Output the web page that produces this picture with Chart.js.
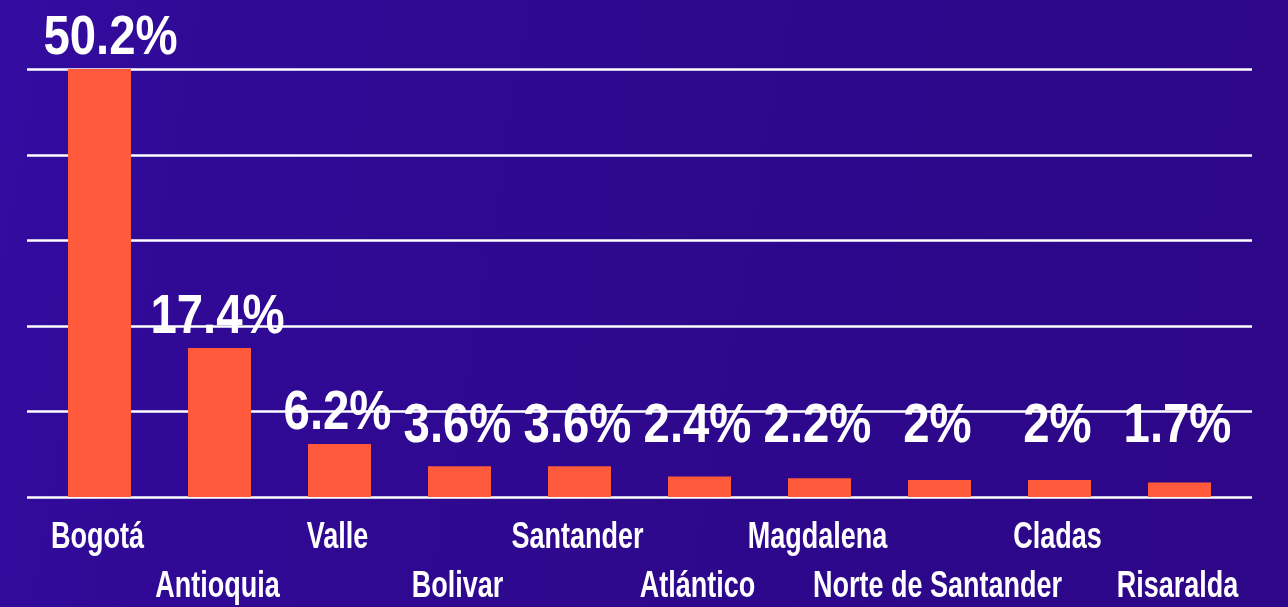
<!DOCTYPE html>
<html>
<head>
<meta charset="utf-8">
<script src="https://cdn.jsdelivr.net/npm/chart.js@4.4.1/dist/chart.umd.min.js"></script>
<style>
html,body{margin:0;padding:0;}
body{width:1288px;height:607px;overflow:hidden;
background:linear-gradient(100deg,#340ca2 0%,#300a96 15%,#2e088d 50%,#2d0787 100%);}
#wrap{position:absolute;left:0;top:0;width:1288px;height:607px;}
</style>
</head>
<body>
<div id="wrap"><canvas id="c" width="1288" height="607"></canvas></div>
<script>
const categories = ["Bogotá","Antioquia","Valle","Bolivar","Santander","Atlántico","Magdalena","Norte de Santander","Cladas","Risaralda"];
const values = [50.2, 17.4, 6.2, 3.6, 3.6, 2.4, 2.2, 2, 2, 1.7];
const valueLabels = ["50.2%","17.4%","6.2%","3.6%","3.6%","2.4%","2.2%","2%","2%","1.7%"];
const yTicks = [0, 10, 20, 30, 40, 50];

const overlay = {
  id: 'overlay',
  beforeDatasetsDraw(chart) {
    const ctx = chart.ctx, y = chart.scales.y;
    ctx.save();
    ctx.strokeStyle = '#ffffff';
    ctx.lineWidth = 2.4;
    yTicks.forEach(v => {
      const py = Math.round(y.getPixelForValue(v)) + 0.5;
      ctx.beginPath();
      ctx.moveTo(27, py);
      ctx.lineTo(1252, py);
      ctx.stroke();
    });
    ctx.restore();
  },
  afterDatasetsDraw(chart) {
    const ctx = chart.ctx, x = chart.scales.x;
    const meta = chart.getDatasetMeta(0);
    ctx.save();
    ctx.fillStyle = '#ffffff';
    ctx.textAlign = 'center';
    ctx.textBaseline = 'alphabetic';
    // value labels
    meta.data.forEach((bar, i) => {
      const top = Math.max(bar.y, chart.chartArea.top);
      const base = Math.min(top - 15, 442);
      ctx.save();
      ctx.translate(bar.x + (i === 0 ? 11 : -2), base);
      ctx.scale(0.86, 1);
      ctx.font = 'bold 55px "Liberation Sans", Arial, sans-serif';
      ctx.fillText(valueLabels[i], 0, 0);
      ctx.restore();
    });
    // category labels (staggered)
    categories.forEach((c, i) => {
      const px = x.getPixelForValue(i) - 2;
      const py = (i % 2 === 0) ? 548 : 597;
      ctx.save();
      ctx.translate(px, py);
      ctx.scale(0.73, 1);
      ctx.font = 'bold 37px "Liberation Sans", Arial, sans-serif';
      ctx.fillText(c, 0, 0);
      ctx.restore();
    });
    ctx.restore();
  }
};

new Chart(document.getElementById('c'), {
  type: 'bar',
  data: {
    labels: categories,
    datasets: [{
      data: values,
      backgroundColor: '#ff5a3c',
      borderWidth: 0,
      barPercentage: 0.525,
      categoryPercentage: 1.0
    }]
  },
  options: {
    responsive: false,
    animation: false,
    events: [],
    layout: { padding: { left: 39.5, right: 48.5, top: 69, bottom: 110 } },
    plugins: { legend: { display: false }, tooltip: { enabled: false } },
    scales: {
      x: { display: false, grid: { display: false } },
      y: { display: false, min: 0, max: 50, grid: { display: false } }
    }
  },
  plugins: [overlay]
});
</script>
</body>
</html>
